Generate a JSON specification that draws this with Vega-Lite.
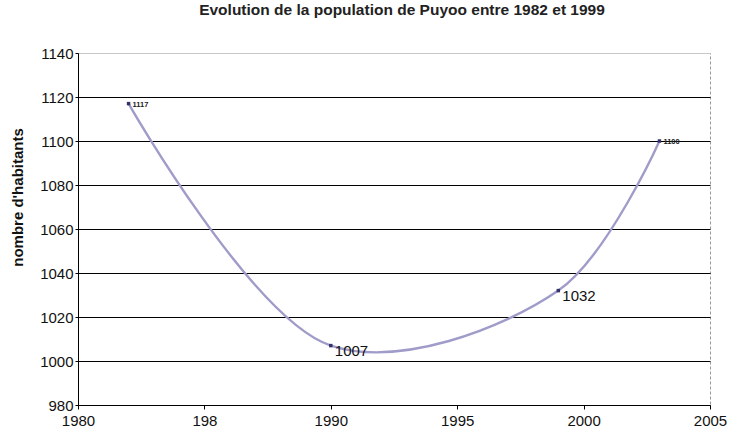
{
  "$schema": "https://vega.github.io/schema/vega-lite/v6.json",
  "width": 632,
  "height": 352,
  "autosize": "none",
  "padding": {"left": 78, "top": 53, "right": 23, "bottom": 31},
  "background": "white",
  "config": {
    "font": "Liberation Sans",
    "view": {"stroke": "#999", "strokeDash": [3, 2], "strokeWidth": 1}
  },
  "title": {
    "text": "Evolution de la population de Puyoo entre 1982 et 1999",
    "font": "Liberation Sans",
    "fontSize": 15.5,
    "fontWeight": "bold",
    "color": "#222",
    "offset": 28,
    "dx": 8
  },
  "data": {
    "values": [
      {"year": 1982, "habitants": 1117},
      {"year": 1990, "habitants": 1007},
      {"year": 1999, "habitants": 1032},
      {"year": 2003, "habitants": 1100}
    ]
  },
  "encoding": {
    "x": {
      "field": "year",
      "type": "quantitative",
      "scale": {"domain": [1980, 2005], "nice": false, "zero": false},
      "axis": {
        "title": null,
        "values": [1980, 1985, 1990, 1995, 2000, 2005],
        "format": "d",
        "labelExpr": "datum.value == 1985 ? '198' : datum.label",
        "labelFlush": false,
        "grid": false,
        "domainColor": "black",
        "tickColor": "black",
        "tickSize": 4,
        "labelFontSize": 15,
        "labelColor": "#111",
        "labelPadding": 4
      }
    },
    "y": {
      "field": "habitants",
      "type": "quantitative",
      "scale": {"domain": [980, 1140], "nice": false, "zero": false},
      "axis": {
        "title": "nombre d'habitants",
        "titleFont": "Liberation Sans",
        "titleFontSize": 15,
        "titleFontWeight": "bold",
        "titleColor": "#111",
        "titleX": -53,
        "titleY": 144,
        "values": [980, 1000, 1020, 1040, 1060, 1080, 1100, 1120, 1140],
        "format": "d",
        "labelFlush": false,
        "grid": true,
        "gridColor": {"condition": {"test": "datum.value == 1140", "value": "#c8c8c8"}, "value": "black"},
        "gridWidth": 1,
        "gridOpacity": 1,
        "domainColor": "black",
        "tickColor": "black",
        "tickSize": 3,
        "labelFontSize": 15,
        "labelColor": "#111",
        "labelPadding": 2
      }
    }
  },
  "layer": [
    {
      "mark": {"type": "line", "interpolate": "catmull-rom", "color": "#a09cc9", "strokeWidth": 2.4}
    },
    {
      "mark": {"type": "point", "shape": "square", "filled": true, "size": 12, "color": "#33336a", "opacity": 1}
    },
    {
      "transform": [{"filter": "datum.year == 1990 || datum.year == 1999"}],
      "mark": {"type": "text", "align": "left", "baseline": "middle", "fontSize": 15, "dx": 4, "dy": 5, "color": "#111"},
      "encoding": {
        "text": {"field": "habitants", "type": "quantitative", "format": "d"}
      }
    },
    {
      "transform": [{"filter": "datum.year == 1982 || datum.year == 2003"}],
      "mark": {"type": "text", "align": "left", "baseline": "middle", "fontSize": 7.5, "fontWeight": "bold", "dx": 4, "dy": 1, "color": "#222"},
      "encoding": {
        "text": {"field": "habitants", "type": "quantitative", "format": "d"}
      }
    }
  ]
}
